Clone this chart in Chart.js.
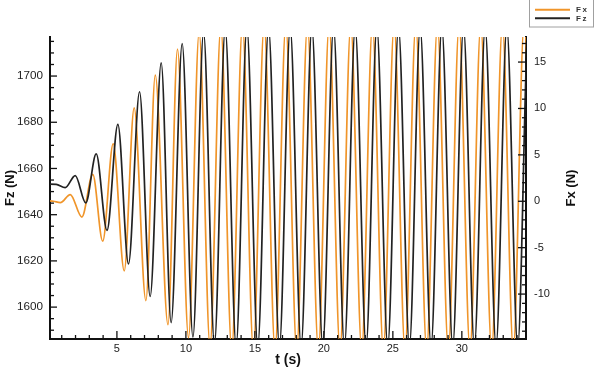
<!DOCTYPE html>
<html><head><meta charset="utf-8">
<script src="https://cdn.jsdelivr.net/npm/chart.js@4.4.0/dist/chart.umd.min.js"></script>
<style>html,body{margin:0;padding:0;background:#fff;overflow:hidden;}</style>
</head><body>
<canvas id="c" width="594" height="378"></canvas>
<script>
// ---- data (extrema of each curve) ----
const fzTimes = [0.0, 0.6, 1.25, 1.98, 2.74, 3.50, 4.28, 5.07, 5.84, 6.64, 7.41, 8.21, 8.93, 9.73, 10.51,
  11.28, 12.07, 12.85, 13.64, 14.42, 15.21, 15.99, 16.78, 17.56, 18.35, 19.13, 19.92, 20.70, 21.49,
  22.27, 23.06, 23.84, 24.63, 25.41, 26.20, 26.98, 27.77, 28.55, 29.34, 30.12, 30.91, 31.69, 32.48,
  33.26, 34.05, 34.83, 35.62];
const fzValues = [1653.2, 1653.1, 1651.7, 1656.9, 1645.1, 1666.3, 1633.2, 1679.1, 1618.7, 1693.2, 1604.6, 1705.7, 1593.3, 1714.0, 1587.0,
  1719.0, 1584.0, 1720.5, 1583, 1721, 1583, 1721, 1583, 1721, 1583, 1721, 1583, 1721, 1583,
  1721, 1583, 1721, 1583, 1721, 1583, 1721, 1583, 1721, 1583, 1721, 1583, 1721, 1583,
  1721, 1583, 1721, 1583];
const fxTimes = [0.0, 0.4, 0.9, 1.62, 2.46, 3.25, 3.97, 4.73, 5.53, 6.25, 7.10, 7.78, 8.70, 9.39, 10.19,
  10.96, 11.75, 12.53, 13.32, 14.10, 14.89, 15.67, 16.46, 17.24, 18.03, 18.81, 19.60, 20.38, 21.17,
  21.95, 22.74, 23.52, 24.31, 25.09, 25.88, 26.66, 27.45, 28.23, 29.02, 29.80, 30.59, 31.37, 32.16,
  32.94, 33.73, 34.51, 35.30];
const fxValues = [0.05, 0.0, -0.15, 0.72, -1.7, 2.9, -4.3, 6.2, -7.5, 10.07, -10.7, 13.6, -13.3, 16.4, -14.7,
  18.2, -15.6, 18.8, -16, 19, -16, 19, -16, 19, -16, 19, -16, 19, -16,
  19, -16, 19, -16, 19, -16, 19, -16, 19, -16, 19, -16, 19, -16,
  19, -16, 19, -16];
const seriesLabels = ['Fx', 'Fz'];
const xLimits = [0.15, 34.65];
const fzLimits = [1586.2, 1716.9];
const fxLimits = [-14.84, 17.7];
const xTitle = 't (s)';
const fzTitle = 'Fz (N)';
const fxTitle = 'Fx (N)';

const FONT = '"Liberation Sans", Arial, Helvetica, sans-serif';
const fxData = fxTimes.map((t, i) => ({x: t, y: fxValues[i]}));
const fzData = fzTimes.map((t, i) => ({x: t, y: fzValues[i]}));

const isMult = (v, m) => Math.abs(v / m - Math.round(v / m)) < 1e-6;

const inwardTicks = {
  id: 'inwardTicks',
  afterDraw(chart) {
    const {ctx, chartArea: a} = chart;
    ctx.save();
    ctx.strokeStyle = '#111';
    ctx.lineWidth = 1.3;
    const run = (scale, every, majLen, minLen, side) => {
      scale.ticks.forEach(t => {
        const len = isMult(t.value, every) ? majLen : minLen;
        const p = scale.getPixelForValue(t.value);
        ctx.beginPath();
        if (side === 'bottom') { ctx.moveTo(p, a.bottom); ctx.lineTo(p, a.bottom - len); }
        else if (side === 'left') { ctx.moveTo(a.left, p); ctx.lineTo(a.left + len, p); }
        else { ctx.moveTo(a.right, p); ctx.lineTo(a.right - len, p); }
        ctx.stroke();
      });
    };
    run(chart.scales.x, 5, 8, 4, 'bottom');
    run(chart.scales.y, 20, 7, 4, 'left');
    run(chart.scales.y1, 5, 8, 4, 'right');
    ctx.restore();
  }
};

const rightTitle = {
  id: 'rightTitle',
  afterDraw(chart) {
    const {ctx, chartArea: a} = chart;
    ctx.save();
    ctx.translate(571, (a.top + a.bottom) / 2);
    ctx.rotate(-Math.PI / 2);
    ctx.font = 'bold 13px ' + FONT;
    ctx.fillStyle = '#111';
    ctx.textAlign = 'center';
    ctx.textBaseline = 'middle';
    ctx.fillText(fxTitle, 0, 0);
    ctx.restore();
  }
};

const boxLegend = {
  id: 'boxLegend',
  afterDraw(chart) {
    const {ctx} = chart;
    ctx.save();
    ctx.strokeStyle = '#a0a0a0';
    ctx.lineWidth = 1;
    ctx.fillStyle = '#fff';
    ctx.fillRect(529.5, -1, 64, 28);
    ctx.strokeRect(529.5, -1, 64, 28);
    ctx.font = 'bold 8px ' + FONT;
    ctx.letterSpacing = '1.5px';
    ctx.textBaseline = 'middle';
    ctx.textAlign = 'left';
    chart.data.datasets.forEach((ds, i) => {
      const yy = 9.7 + i * 8.6;
      ctx.strokeStyle = ds.borderColor;
      ctx.lineWidth = 2;
      ctx.beginPath(); ctx.moveTo(535, yy); ctx.lineTo(570, yy); ctx.stroke();
      ctx.fillStyle = '#333';
      ctx.fillText(ds.label, 576, yy);
    });
    ctx.restore();
  }
};

new Chart(document.getElementById('c').getContext('2d'), {
  type: 'line',
  data: {
    datasets: [
      {label: seriesLabels[0], data: fxData, yAxisID: 'y1', borderColor: '#f0952a', borderWidth: 1.7,
       pointRadius: 0, cubicInterpolationMode: 'monotone', order: 1, clip: 0},
      {label: seriesLabels[1], data: fzData, yAxisID: 'y', borderColor: '#222222', borderWidth: 1.7,
       pointRadius: 0, cubicInterpolationMode: 'monotone', order: 0, clip: 0}
    ]
  },
  options: {
    responsive: false, animation: false, devicePixelRatio: 1,
    layout: {padding: {top: 37, left: 0, right: 0, bottom: 0}},
    plugins: {legend: {display: false}, tooltip: {enabled: false}},
    scales: {
      x: {
        type: 'linear', position: 'bottom', min: xLimits[0], max: xLimits[1],
        grid: {drawOnChartArea: false, drawTicks: false},
        border: {display: true, color: '#111', width: 2},
        ticks: {stepSize: 1, autoSkip: false, maxRotation: 0, includeBounds: false, maxTicksLimit: 1000, padding: 3,
          font: {family: FONT, size: 11}, color: '#222',
          callback: v => isMult(v, 5) ? String(Math.round(v)) : ''},
        title: {display: true, text: xTitle, font: {family: FONT, size: 14, weight: 'bold'}, color: '#111',
          padding: {top: 0, bottom: 9.6}},
        afterFit: s => { s.height = 39; }
      },
      y: {
        type: 'linear', position: 'left', min: fzLimits[0], max: fzLimits[1],
        grid: {drawOnChartArea: false, drawTicks: false},
        border: {display: true, color: '#111', width: 2},
        ticks: {stepSize: 5, autoSkip: false, includeBounds: false, maxTicksLimit: 1000, padding: 7,
          font: {family: FONT, size: 11.7}, color: '#222',
          callback: v => isMult(v, 20) ? String(Math.round(v)) : ''},
        title: {display: true, text: fzTitle, font: {family: FONT, size: 13, weight: 'bold'}, color: '#111',
          padding: {top: 3, bottom: 0}},
        afterFit: s => { s.width = 50; }
      },
      y1: {
        type: 'linear', position: 'right', min: fxLimits[0], max: fxLimits[1],
        grid: {drawOnChartArea: false, drawTicks: false},
        border: {display: true, color: '#111', width: 2},
        ticks: {stepSize: 1, autoSkip: false, includeBounds: false, maxTicksLimit: 1000, padding: 8,
          font: {family: FONT, size: 11}, color: '#222',
          callback: v => isMult(v, 5) ? String(Math.round(v)) : ''},
        afterFit: s => { s.width = 68; }
      }
    }
  },
  plugins: [inwardTicks, rightTitle, boxLegend]
});
</script>
</body></html>
